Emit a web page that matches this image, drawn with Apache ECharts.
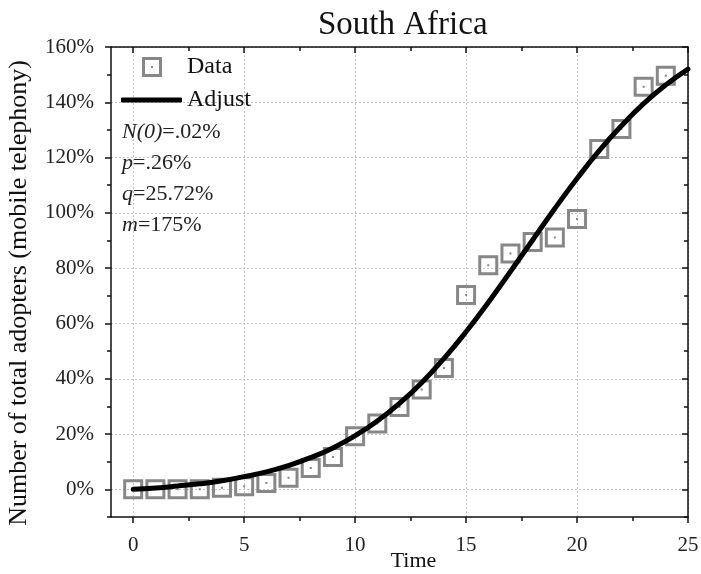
<!DOCTYPE html>
<html>
<head>
<meta charset="utf-8">
<script src="https://cdn.jsdelivr.net/npm/echarts@6/dist/echarts.min.js"></script>
<style>
html,body{margin:0;padding:0;background:#fff;}
#chart{width:701px;height:574px;}
</style>
</head>
<body>
<div id="chart"></div>
<script>
// ---- data ----
const dataTimes = [0,1,2,3,4,5,6,7,8,9,10,11,12,13,14,15,16,17,18,19,20,21,22,23,24];
const dataValues = [0,0,0,0,0.6,1.1,2.3,4.2,7.7,11.7,19.2,23.8,29.8,36.1,43.9,70.3,81.1,85.3,89.5,91.1,97.8,123.1,130.3,145.6,149.6];
const fitTimes = [0,1,2,3,4,5,6,7,8,9,10,11,12,13,14,15,16,17,18,19,20,21,22,23,24,25];
const fitValues = [0.02,0.5,1.2,2.0,3.1,4.6,6.3,8.6,11.5,15.0,19.4,24.7,31.1,38.6,47.3,57.0,67.6,78.8,90.2,101.6,112.4,122.5,131.5,139.5,146.3,152.0];
const xMajorTicks = [0,5,10,15,20,25];
const xMinorTicks = [2.5,7.5,12.5,17.5,22.5];
const yMajorTicks = [0,20,40,60,80,100,120,140,160];
const yMinorTicks = [-10,10,30,50,70,90,110,130,150];
const annotations = [
  ['N(0)', '=.02%'],
  ['p', '=.26%'],
  ['q', '=25.72%'],
  ['m', '=175%']
];

const FONT = '"Liberation Serif", "Times New Roman", serif';
const ringPath = 'path://M0 0H20V20H0Z M3 3V17H17V3Z M9 9H11V11H9Z';

const chart = echarts.init(document.getElementById('chart'), null, {renderer: 'canvas'});

const gridLine = {show: true, lineStyle: {color: '#c4c4c4', type: [2, 2], width: 1}};
const baseX = {type: 'value', min: -1, max: 25, splitNumber: 5, minInterval: 5, maxInterval: 5, gridIndex: 0};
const baseY = {type: 'value', min: -10, max: 160, splitNumber: 8, minInterval: 20, maxInterval: 20, gridIndex: 0};
const axLine = {show: true, onZero: false, lineStyle: {color: '#111', width: 1.5}};
const noLine = {show: false, onZero: false};
const tickStyle = {color: '#111', width: 1.5};

const option = {
  backgroundColor: '#fff',
  animation: false,
  title: {
    text: 'South Africa',
    left: 313, top: 4,
    textStyle: {fontFamily: FONT, fontSize: 33, fontWeight: 'normal', color: '#111'}
  },
  grid: {left: 111, top: 47, right: 13, bottom: 57, containLabel: false, outerBoundsMode: 'none'},
  legend: [
    {
      data: [{name: 'Data', icon: ringPath}],
      left: 137, top: 50, orient: 'vertical',
      itemWidth: 20, itemHeight: 20,
      textStyle: {fontFamily: FONT, fontSize: 24, color: '#111', padding: [0, 0, 0, 20]}
    },
    {
      data: [{name: 'Adjust', icon: 'roundRect', itemStyle: {color: '#000'}}],
      left: 116, top: 83, orient: 'vertical',
      itemWidth: 61, itemHeight: 5,
      textStyle: {fontFamily: FONT, fontSize: 24, color: '#111'}
    }
  ],
  xAxis: [
    Object.assign({}, baseX, {
      position: 'bottom',
      name: 'Time', nameLocation: 'middle', nameGap: 33, nameMoveOverlap: false,
      nameTextStyle: {fontFamily: FONT, fontSize: 22, color: '#111', padding: [0, 0, 0, 28]},
      axisLine: axLine,
      axisTick: {show: true, inside: false, length: 6, customValues: xMajorTicks, lineStyle: tickStyle},
      axisLabel: {show: true, customValues: xMajorTicks, margin: 18, fontFamily: FONT, fontSize: 21, color: '#222'},
      splitLine: gridLine
    }),
    Object.assign({}, baseX, {
      position: 'bottom',
      axisLine: noLine,
      axisTick: {show: true, inside: false, length: 4, customValues: xMinorTicks, lineStyle: tickStyle},
      axisLabel: {show: false},
      splitLine: {show: false}
    }),
    Object.assign({}, baseX, {
      position: 'top',
      axisLine: axLine,
      axisTick: {show: true, inside: true, length: 6, customValues: xMajorTicks, lineStyle: tickStyle},
      axisLabel: {show: false},
      splitLine: {show: false}
    }),
    Object.assign({}, baseX, {
      position: 'top',
      axisLine: noLine,
      axisTick: {show: true, inside: true, length: 4, customValues: xMinorTicks, lineStyle: tickStyle},
      axisLabel: {show: false},
      splitLine: {show: false}
    })
  ],
  yAxis: [
    Object.assign({}, baseY, {
      position: 'left',
      name: 'Number of total adopters (mobile telephony)', nameLocation: 'middle', nameGap: 79, nameMoveOverlap: false,
      nameTextStyle: {fontFamily: FONT, fontSize: 26, color: '#111', padding: [0, 22, 0, 0]},
      axisLine: axLine,
      axisTick: {show: true, inside: false, length: 6, customValues: yMajorTicks, lineStyle: tickStyle},
      axisLabel: {show: true, customValues: yMajorTicks, margin: 17, fontFamily: FONT, fontSize: 21, color: '#222', formatter: '{value}%'},
      splitLine: gridLine
    }),
    Object.assign({}, baseY, {
      position: 'left',
      axisLine: noLine,
      axisTick: {show: true, inside: false, length: 4, customValues: yMinorTicks, lineStyle: tickStyle},
      axisLabel: {show: false},
      splitLine: {show: false}
    }),
    Object.assign({}, baseY, {
      position: 'right',
      axisLine: axLine,
      axisTick: {show: true, inside: true, length: 6, customValues: yMajorTicks, lineStyle: tickStyle},
      axisLabel: {show: false},
      splitLine: {show: false}
    }),
    Object.assign({}, baseY, {
      position: 'right',
      axisLine: noLine,
      axisTick: {show: true, inside: true, length: 4, customValues: yMinorTicks, lineStyle: tickStyle},
      axisLabel: {show: false},
      splitLine: {show: false}
    })
  ],
  graphic: annotations.map(function (a, i) {
    return {
      type: 'text', left: 122, top: 121 + i * 31, z: 10,
      style: {
        text: '{i|' + a[0] + '}{n|' + a[1] + '}',
        rich: {
          i: {fontFamily: FONT, fontSize: 22, fontStyle: 'italic', fill: '#222'},
          n: {fontFamily: FONT, fontSize: 22, fill: '#222'}
        }
      }
    };
  }),
  series: [
    {
      name: 'Data', type: 'scatter', xAxisIndex: 0, yAxisIndex: 0,
      symbol: ringPath, symbolSize: 20, z: 2,
      itemStyle: {color: '#878787', opacity: 1},
      data: dataTimes.map(function (t, i) { return [t, dataValues[i]]; })
    },
    {
      name: 'Adjust', type: 'line', xAxisIndex: 0, yAxisIndex: 0,
      smooth: true, symbol: 'none', z: 3,
      lineStyle: {color: '#000', width: 5, cap: 'round'},
      itemStyle: {color: '#000'},
      data: fitTimes.map(function (t, i) { return [t, fitValues[i]]; })
    }
  ]
};
chart.setOption(option);
</script>
</body>
</html>
